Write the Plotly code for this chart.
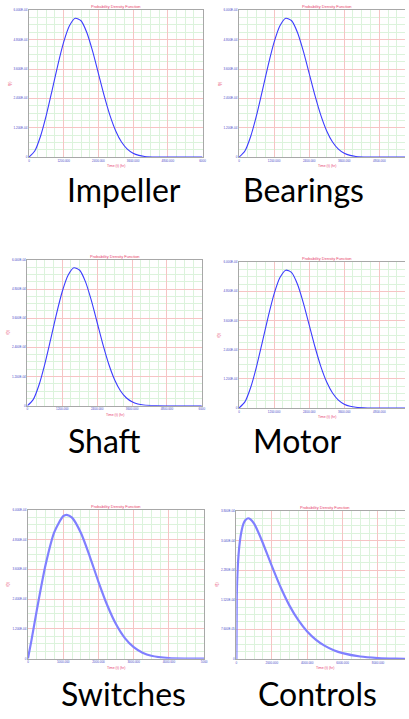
import plotly.graph_objects as go

# ---------------- data ----------------
impeller_t = [0, 200, 400, 600, 800, 1000, 1200, 1400, 1600, 1800, 2000, 2200, 2400,
              2600, 2800, 3000, 3200, 3400, 3600, 3800, 4000, 4400, 5000, 6000]
impeller_f = [0, 0.252e-4, 0.855e-4, 1.715e-4, 2.730e-4, 3.773e-4, 4.699e-4, 5.368e-4,
              5.674e-4, 5.572e-4, 5.093e-4, 4.331e-4, 3.424e-4, 2.512e-4, 1.707e-4,
              1.071e-4, 0.619e-4, 0.328e-4, 0.160e-4, 0.071e-4, 0.029e-4, 0.003e-4, 0, 0]
bearings_t = impeller_t
bearings_f = impeller_f
shaft_t = impeller_t
shaft_f = impeller_f
motor_t = impeller_t
motor_f = impeller_f

switches_t = [0, 100, 250, 500, 750, 1000, 1100, 1250, 1500, 1750, 2000, 2250, 2500,
              2750, 3000, 3250, 3500, 4000, 4500, 5000]
switches_f = [0, 0.745e-4, 1.945e-4, 3.782e-4, 5.110e-4, 5.746e-4, 5.801e-4, 5.687e-4,
              5.076e-4, 4.138e-4, 3.100e-4, 2.153e-4, 1.385e-4, 0.828e-4, 0.460e-4,
              0.239e-4, 0.115e-4, 0.022e-4, 0.003e-4, 0]

controls_t = [0, 20, 60, 120, 200, 300, 400, 500, 660, 800, 1000, 1200, 1500, 2000,
              2500, 3000, 3500, 4000, 4500, 5000, 5500, 6000, 7000, 8000, 9000, 10000]
controls_f = [0, 1.589e-4, 2.19e-4, 2.66e-4, 3.03e-4, 3.30e-4, 3.47e-4, 3.56e-4, 3.61e-4,
              3.58e-4, 3.47e-4, 3.29e-4, 2.97e-4, 2.39e-4, 1.84e-4, 1.37e-4, 0.996e-4,
              0.707e-4, 0.492e-4, 0.337e-4, 0.227e-4, 0.151e-4, 0.064e-4, 0.026e-4,
              0.010e-4, 0.004e-4]

std_xticks = [0, 1200, 2400, 3600, 4800, 6000]
std_xlabels = ["0", "1200.000", "2400.000", "3600.000", "4800.000", "6000"]
std_yticks = [0, 1.2e-4, 2.4e-4, 3.6e-4, 4.8e-4, 6.0e-4]
std_ylabels = ["0", "1.200E-04", "2.400E-04", "3.600E-04", "4.800E-04", "6.000E-04"]

sw_xticks = [0, 1000, 2000, 3000, 4000, 5000]
sw_xlabels = ["0", "1000.000", "2000.000", "3000.000", "4000.000", "5000"]

ct_xticks = [0, 2000, 4000, 6000, 8000]
ct_xlabels = ["0", "2000.000", "4000.000", "6000.000", "8000.000"]
ct_yticks = [0, 0.76e-4, 1.52e-4, 2.28e-4, 3.04e-4, 3.80e-4]
ct_ylabels = ["0", "7.600E-05", "1.520E-04", "2.280E-04", "3.040E-04", "3.800E-04"]

names = ["Impeller", "Bearings", "Shaft", "Motor", "Switches", "Controls"]
title_text = "Probability Density Function"
xtitle_text = "Time (t) (hr)"
ytitle_text = "f(t)"

# ---------------- layout ----------------
W, H = 409, 719

panels = [
    dict(t=impeller_t, f=impeller_f, px=(28.3, 204), py=(8.3, 156), xr=6000, yr=6e-4,
         full=6000, xt=std_xticks, xl=std_xlabels, yt=std_yticks, yl=std_ylabels,
         xm=300, ym=3e-5, mirror=True, thick=False, label=(125, 188.5)),
    dict(t=bearings_t, f=bearings_f, px=(241, 409), py=(8.3, 156), xr=5680, yr=6e-4,
         full=6000, xt=std_xticks, xl=std_xlabels, yt=std_yticks, yl=std_ylabels,
         xm=300, ym=3e-5, mirror=False, thick=False, label=(306, 188.5)),
    dict(t=shaft_t, f=shaft_f, px=(26.7, 203.3), py=(259.3, 406), xr=6000, yr=6e-4,
         full=6000, xt=std_xticks, xl=std_xlabels, yt=std_yticks, yl=std_ylabels,
         xm=300, ym=3e-5, mirror=True, thick=False, label=(105, 441)),
    dict(t=motor_t, f=motor_f, px=(241, 409), py=(261.7, 408.3), xr=5680, yr=6e-4,
         full=6000, xt=std_xticks, xl=std_xlabels, yt=std_yticks, yl=std_ylabels,
         xm=300, ym=3e-5, mirror=False, thick=False, label=(300, 441)),
    dict(t=switches_t, f=switches_f, px=(27.3, 205.7), py=(510.7, 660.3), xr=5000, yr=6e-4,
         full=5000, xt=sw_xticks, xl=sw_xlabels, yt=std_yticks, yl=std_ylabels,
         xm=250, ym=3e-5, mirror=True, thick=True, label=(124, 695)),
    dict(t=controls_t, f=controls_f, px=(238.3, 409), py=(511.7, 660.7), xr=9526, yr=3.8e-4,
         full=10000, xt=ct_xticks, xl=ct_xlabels, yt=ct_yticks, yl=ct_ylabels,
         xm=500, ym=1.9e-5, mirror=False, thick=True, label=(320, 695)),
]


def fx(px):
    return px / W


def fy(py):
    return 1 - py / H


fig = go.Figure()
annotations = []
pink = "#e8406a"
tickblue = "#4848c8"

for i, p in enumerate(panels, start=1):
    xa = "x" if i == 1 else f"x{i}"
    ya = "y" if i == 1 else f"y{i}"
    xkey = "xaxis" if i == 1 else f"xaxis{i}"
    ykey = "yaxis" if i == 1 else f"yaxis{i}"
    x0, x1 = p["px"]
    y0, y1 = p["py"]
    fig.add_trace(go.Scatter(
        x=p["t"], y=p["f"], mode="lines", xaxis=xa, yaxis=ya, showlegend=False,
        line=dict(color="#8080ff" if p["thick"] else "#3c3cff",
                  width=2.2 if p["thick"] else 1.1, shape="spline", smoothing=0.7)))
    fig.layout[xkey] = dict(
        domain=[max(fx(x0), 0), min(fx(x1), 1.0)], range=[0, p["xr"]], anchor=ya,
        tickmode="array", tickvals=p["xt"], ticktext=p["xl"],
        tickfont=dict(size=3, color=tickblue, family="Arial"),
        showgrid=True, gridcolor="#f6c4c4", gridwidth=1,
        minor=dict(dtick=p["xm"], showgrid=True, gridcolor="#dcf3dc", gridwidth=1),
        showline=True, linecolor="#a8a8a8", linewidth=1, mirror=True,
        zeroline=False, ticks="", fixedrange=True)
    fig.layout[ykey] = dict(
        domain=[max(fy(y1), 0), min(fy(y0), 1.0)], range=[0, p["yr"]], anchor=xa,
        tickmode="array", tickvals=p["yt"], ticktext=p["yl"],
        tickfont=dict(size=3, color=tickblue, family="Arial"),
        showgrid=True, gridcolor="#f6c4c4", gridwidth=1,
        minor=dict(dtick=p["ym"], showgrid=True, gridcolor="#dcf3dc", gridwidth=1),
        showline=True, linecolor="#a8a8a8", linewidth=1, mirror=p["mirror"],
        zeroline=False, ticks="", fixedrange=True)

    # centre of the full plot width (right-hand panels are cut by the page edge)
    full_x1 = x0 + (x1 - x0) * p["full"] / p["xr"]
    cx = (x0 + full_x1) / 2
    annotations.append(dict(text=title_text, x=fx(cx), y=fy(y0 - 3.8),
                            xref="paper", yref="paper", showarrow=False,
                            font=dict(size=4, color=pink, family="Arial"),
                            xanchor="center", yanchor="middle"))
    annotations.append(dict(text=xtitle_text, x=fx(cx), y=fy(y1 + 9),
                            xref="paper", yref="paper", showarrow=False,
                            font=dict(size=3.5, color=pink, family="Arial"),
                            xanchor="center", yanchor="middle"))
    annotations.append(dict(text=ytitle_text, x=fx(x0 - 20), y=fy((y0 + y1) / 2),
                            xref="paper", yref="paper", showarrow=False, textangle=-90,
                            font=dict(size=3.5, color=pink, family="Arial"),
                            xanchor="center", yanchor="middle"))
    lx, ly = p["label"]
    annotations.append(dict(text=names[i - 1], x=fx(lx), y=fy(ly),
                            xref="paper", yref="paper", showarrow=False,
                            font=dict(size=32, color="#000000", family="Lato"),
                            xanchor="center", yanchor="middle"))

fig.update_layout(
    width=W, height=H, margin=dict(l=0, r=0, t=0, b=0),
    paper_bgcolor="white", plot_bgcolor="white",
    annotations=annotations, showlegend=False)

# remove the browser's default 8px page margin so the figure fills the window
fig.write_html("out.html",
               config={"displayModeBar": False},
               post_script="document.body.style.margin='0';"
                           "document.body.style.overflow='hidden';")
